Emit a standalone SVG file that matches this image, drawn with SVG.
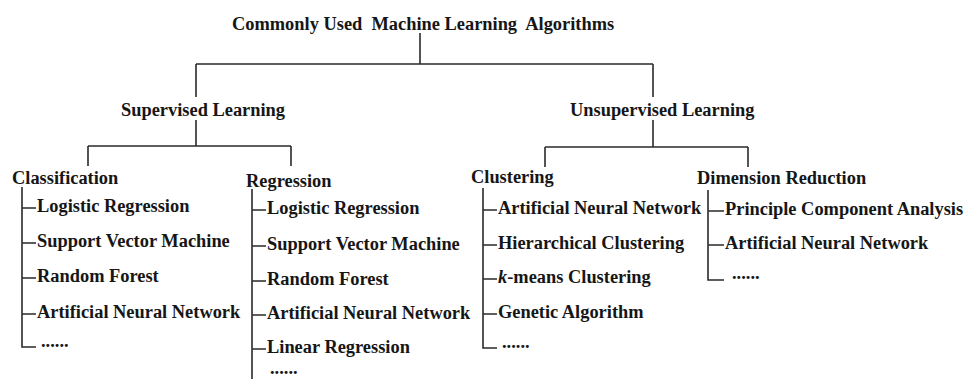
<svg xmlns="http://www.w3.org/2000/svg" width="965" height="379" viewBox="0 0 965 379">
  <style>
    text { font-family: "Liberation Serif", "Times New Roman", serif; font-weight: bold; font-size: 18.4px; fill: #161616; white-space: pre; }
    .edge { fill: none; stroke: #2a2a2a; stroke-width: 1.6; }
  </style>
  <rect width="965" height="379" fill="#ffffff"/>

  <!-- tree connectors -->
  <g id="connectors" class="edge">
    <path d="M420,33 V64 M196,64 H653 M196,64 V97 M653,64 V97"/>
    <path d="M196,120 V146 M88,146 H291 M88,146 V166 M291,146 V166"/>
    <path d="M653,120 V147 M545,147 H748 M545,147 V167 M748,147 V167"/>
    <!-- classification list -->
    <path d="M22,187 V347 H36 M22,208 H36 M22,243 H36 M22,278 H36 M22,314 H36"/>
    <!-- regression list -->
    <path d="M252,189 V379 M252,210 H266 M252,246 H266 M252,281 H266 M252,315 H266 M252,349 H266"/>
    <!-- clustering list -->
    <path d="M483,188 V348 H497 M483,210 H497 M483,245 H497 M483,279 H497 M483,314 H497"/>
    <!-- dimension reduction list -->
    <path d="M708,190 V280 H724 M708,211 H724 M708,245 H724"/>
  </g>

  <g id="root"><text x="232" y="30">Commonly Used  Machine Learning  Algorithms</text></g>
  <g id="supervised"><text x="121" y="116">Supervised Learning</text></g>
  <g id="unsupervised"><text x="570" y="116">Unsupervised Learning</text></g>

  <g id="classification">
    <text x="12" y="184">Classification</text>
    <text x="37" y="212">Logistic Regression</text>
    <text x="37" y="247">Support Vector Machine</text>
    <text x="37" y="282">Random Forest</text>
    <text x="37" y="318">Artificial Neural Network</text>
    <text x="41" y="347">......</text>
  </g>

  <g id="regression">
    <text x="246" y="187">Regression</text>
    <text x="267" y="214">Logistic Regression</text>
    <text x="267" y="250">Support Vector Machine</text>
    <text x="267" y="285">Random Forest</text>
    <text x="267" y="319">Artificial Neural Network</text>
    <text x="267" y="353">Linear Regression</text>
    <text x="270" y="374">......</text>
  </g>

  <g id="clustering">
    <text x="471" y="183">Clustering</text>
    <text x="498" y="214">Artificial Neural Network</text>
    <text x="498" y="249">Hierarchical Clustering</text>
    <text x="498" y="283"><tspan font-style="italic">k</tspan>-means Clustering</text>
    <text x="498" y="318">Genetic Algorithm</text>
    <text x="502" y="348">......</text>
  </g>

  <g id="dimension-reduction">
    <text x="697" y="184">Dimension Reduction</text>
    <text x="725" y="215">Principle Component Analysis</text>
    <text x="725" y="249">Artificial Neural Network</text>
    <text x="732" y="279">......</text>
  </g>
</svg>
